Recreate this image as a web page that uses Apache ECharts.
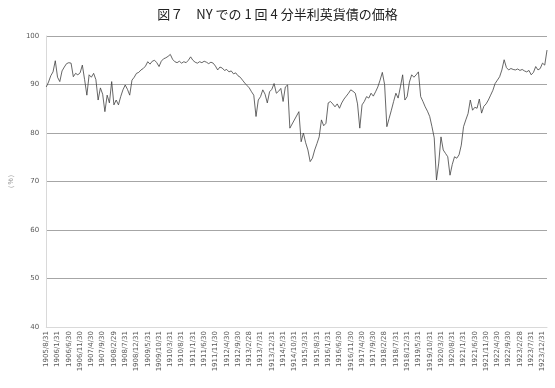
<!DOCTYPE html>
<html>
<head>
<meta charset="utf-8" />
<title>図７</title>
<script src="https://cdn.jsdelivr.net/npm/echarts@6/dist/echarts.min.js"></script>
<style>
html, body { margin: 0; padding: 0; background: #fff; }
#chart { width: 555px; height: 388px; }
</style>
</head>
<body>
<div id="chart"></div>
<script type="text/javascript">
// month-end dates, 1905/8 .. 1924/2
var startYear = 1905, startMonth = 8, monthCount = 223;
var yTicks = [40, 50, 60, 70, 80, 90, 100];

// price, one value per month (null = exchange closed)
var prices = [
	89.5, 90.5, 91.8, 92.6, 94.9, 91.5, 90.6, 92.8, 93.6, 94.3,
	94.5, 94.4, 91.6, 92.3, 92.0, 92.4, 94.0, 91.0, 87.8, 92.0,
	91.5, 92.3, 91.0, 86.8, 89.3, 88.0, 84.4, 87.8, 86.2, 90.6,
	85.8, 86.8, 85.8, 87.5, 88.9, 89.9, 89.0, 87.8, 90.9, 91.5,
	92.3, 92.5, 93.0, 93.3, 93.8, 94.7, 94.2, 94.8, 95.0, 94.5,
	93.7, 94.8, 95.3, 95.5, 95.8, 96.2, 95.2, 94.7, 94.5, 94.8,
	94.4, 94.7, 94.5, 95.0, 95.7, 95.0, 94.6, 94.4, 94.7, 94.5,
	94.8, 94.6, 94.3, 94.6, 94.4, 93.8, 93.0, 93.6, 93.4, 92.9,
	93.1, 92.6, 92.8, 92.2, 92.4, 91.8, 91.5, 90.9, 90.3, 89.8,
	89.3, 88.5, 87.8, 83.4, 86.8, 87.5, 88.9, 88.0, 86.2, 88.5,
	89.0, 90.2, 88.2, 88.6, 89.2, 86.5, 89.5, 89.9, 81.0, null,
	null, null, 84.4, 78.2, 80.0, 78.0, 76.5, 74.1, 74.8, 76.5,
	77.8, 79.2, 82.7, 81.5, 82.0, 86.2, 86.5, 86.0, 85.4, 86.0,
	85.1, 86.2, 87.0, 87.6, 88.2, 88.9, 88.6, 88.2, 86.0, 81.0,
	85.8, 86.5, 87.5, 87.2, 88.2, 87.6, 88.5, 89.5, 90.9, 92.5,
	90.0, 81.3, 83.0, 84.7, 86.5, 88.2, 87.2, 89.5, 92.0, 86.8,
	87.5, 90.5, 92.0, 91.5, 92.0, 92.6, 87.5, 86.5, 85.4, 84.5,
	83.4, 81.3, 79.0, 70.3, 73.8, 79.2, 76.5, 75.8, 75.1, 71.3,
	73.5, 75.1, 74.8, 75.5, 77.5, 81.3, 82.7, 84.0, 86.8, 84.7,
	85.3, 85.1, 87.0, 84.1, 85.5, 86.0, 86.8, 87.8, 88.8, 90.2,
	90.9, 91.6, 93.0, 95.1, 93.5, 93.0, 93.3, 93.1, 93.0, 93.2,
	92.9, 93.1, 92.8, 92.6, 92.9, 92.0, 92.5, 93.7, 93.0, 93.3,
	94.4, 94.0, 97.1
];

var dates = [];
for (var k = 0; k < monthCount; k++) {
	var m = startMonth - 1 + k;
	var y = startYear + Math.floor(m / 12);
	var mo = (m % 12) + 1;
	var last = new Date(y, mo, 0).getDate();
	dates.push(y + '/' + mo + '/' + last);
}

var myChart = echarts.init(document.getElementById('chart'));
myChart.setOption({
	animation : false,
	title : {
		text : '図７　NY での 1 回 4 分半利英貨債の価格',
		left : 'center',
		top : 3,
		textStyle : {
			fontFamily : 'Noto Sans CJK JP',
			fontSize : 13,
			fontWeight : 'normal',
			color : '#222'
		}
	},
	grid : {
		left : 27,
		right : 8,
		top : 36,
		bottom : 61
	},
	xAxis : {
		type : 'category',
		boundaryGap : false,
		data : dates,
		axisLine : { lineStyle : { color : '#d9d9d9' } },
		axisTick : { show : false },
		axisLabel : {
			interval : 4,
			rotate : 90,
			fontSize : 7,
			color : '#595959',
			fontFamily : 'DejaVu Sans',
			margin : 4
		},
		splitLine : { show : false }
	},
	yAxis : {
		type : 'value',
		min : yTicks[0],
		max : yTicks[yTicks.length - 1],
		interval : 10,
		name : '（%）',
		nameLocation : 'middle',
		nameGap : 23,
		nameRotate : 90,
		nameTextStyle : { fontSize : 7, color : '#999' },
		axisLine : { show : true, lineStyle : { color : '#d9d9d9' } },
		axisTick : { show : false },
		axisLabel : {
			fontSize : 7,
			color : '#595959',
			fontFamily : 'DejaVu Sans',
			margin : 7
		},
		splitLine : { lineStyle : { color : '#a6a6a6', width : 1 } }
	},
	series : [ {
		type : 'line',
		data : prices,
		showSymbol : false,
		connectNulls : true,
		lineStyle : { color : '#404040', width : 0.8 }
	} ]
});
</script>
</body>
</html>
